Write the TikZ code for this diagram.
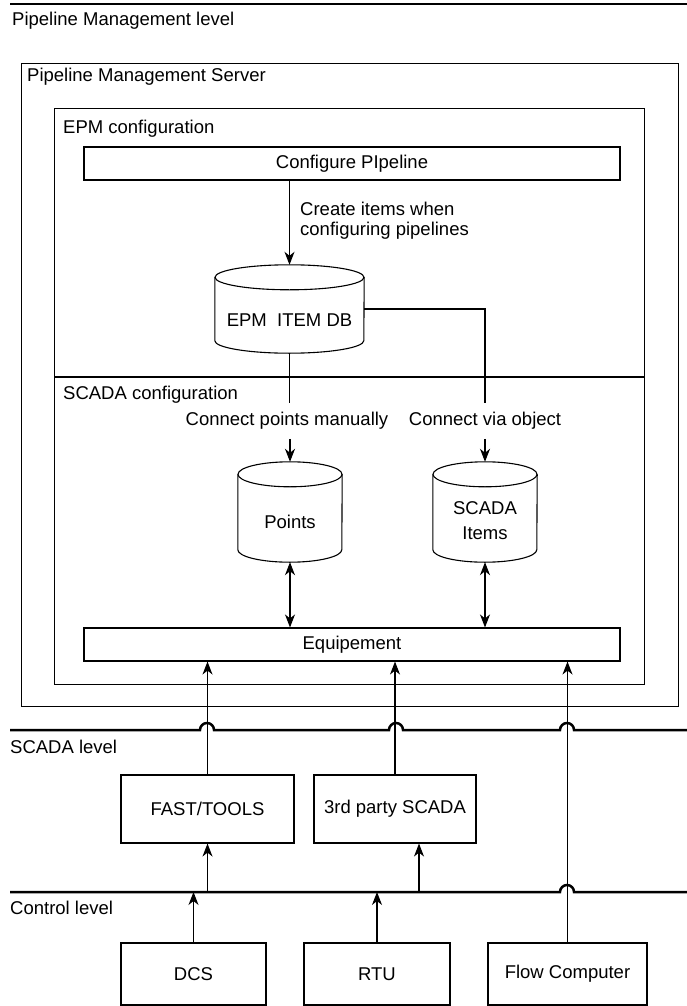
\documentclass[tikz,border=0pt]{standalone}
\usepackage{fontspec}
\setmainfont{Liberation Sans}
\usetikzlibrary{arrows.meta}

\tikzset{
  box/.style={draw, line width=1.1pt, inner sep=0pt},
  dbbody/.style={inner sep=0pt},
  arr/.style={-{Stealth[length=13pt,width=10pt,inset=4pt]}, line width=1.1pt},
  darr/.style={{Stealth[length=13pt,width=10pt,inset=4pt]}-{Stealth[length=13pt,width=10pt,inset=4pt]}, line width=1.1pt},
  level/.style={line width=2.5pt},
  lbl/.style={inner sep=0pt},
  gaplbl/.style={inner xsep=0pt, inner ysep=9pt},
}

% outline of a database drum round a node: #1 node, #2 half width
\newcommand{\dbdraw}[2]{%
  \draw[line width=1.1pt] ([yshift=-12.5pt]#1.north) ellipse [x radius=#2, y radius=12.5];
  \draw[line width=1.1pt] ([yshift=-12.5pt]#1.north west) -- ([yshift=12.5pt]#1.south west)
      arc [start angle=180, end angle=0, x radius=#2, y radius=12.5] -- ([yshift=-12.5pt]#1.north east);
}

\begin{document}
\begin{tikzpicture}[x=1pt, y=-1pt, font=\fontsize{18.5}{20}\selectfont]
    \useasboundingbox (0,0) rectangle (687,1006);

    % levels
    \draw[level] (10,4) -- (687,4);
    \node[lbl, anchor=base west] at (12,26) {Pipeline Management level};
    \draw[level] (10,730) -- (200,730) arc (180:360:7) -- (389,730) arc (180:360:7)
        -- (560,730) arc (180:360:7) -- (687,730);
    \node[lbl, anchor=base west] at (10,753) {SCADA level};
    \draw[level] (10,892) -- (560,892) arc (180:360:7) -- (687,892);
    \node[lbl, anchor=base west] at (10,914) {Control level};
    \coordinate (ctl) at (0,892);

    % server and configuration frames
    \node[box, anchor=north west, minimum width=657, minimum height=643] (server) at (21,63) {};
    \node[lbl, anchor=base west] at (27,82) {Pipeline Management Server};
    \node[box, anchor=north west, minimum width=590, minimum height=576] (cfg) at (54,108) {};
    \coordinate (divy) at (0,377);
    \draw[line width=1.1pt] (cfg.west |- divy) -- (cfg.east |- divy);
    \node[lbl, anchor=base west] at (63,133) {EPM configuration};
    \node[lbl, anchor=base west] at (63,399) {SCADA configuration};

    % EPM configuration
    \node[box, minimum width=536, minimum height=33] (conf) at (352,163.5) {Configure PIpeline};
    \node[dbbody, minimum width=149, minimum height=88] (epm) at (289.5,309) {};
    \dbdraw{epm}{74.5}
    \node[lbl] (epmtxt) at ([yshift=-11pt]epm.center) {EPM\ \ ITEM DB};
    \draw[arr] (epm.north |- conf.south) -- (epm.north);
    \node[lbl, anchor=west, align=left] (create) at (300,221) {Create items when\\configuring pipelines};

    % SCADA configuration
    \node[gaplbl] (cpm) at (287,421) {Connect points manually};
    \node[gaplbl] (cvo) at (485,421) {Connect via object};
    \node[dbbody, minimum width=104, minimum height=100] (pts) at (290,512) {};
    \dbdraw{pts}{52}
    \node[lbl] (ptstxt) at ([yshift=-10pt]pts.center) {Points};
    \node[dbbody, minimum width=104, minimum height=100] (items) at (485,512) {};
    \dbdraw{items}{52}
    \node[lbl, align=center] (itemstxt) at ([yshift=-9pt]items.center) {SCADA\\[5pt]Items};
    \draw[line width=1.1pt] (epm.south) -- (epm.south |- cpm.north);
    \draw[arr] (pts.north |- cpm.south) -- (pts.north);
    \draw[line width=1.1pt] (epm.east) -| (cvo.north);
    \draw[arr] (cvo.south) -- (items.north);
    \node[box, minimum width=536, minimum height=33] (equip) at (352,644.5) {Equipement};
    \draw[darr] (pts.south) -- (pts.south |- equip.north);
    \draw[darr] (items.south) -- (items.south |- equip.north);

    % SCADA level
    \node[box, minimum width=173, minimum height=68] (fast) at (207.5,809) {FAST/TOOLS};
    \node[box, minimum width=162, minimum height=68] (third) at (395,809) {3rd party SCADA};
    \draw[arr] (fast.north) -- (fast.north |- equip.south);
    \draw[arr] (third.north) -- (third.north |- equip.south);

    % control level
    \node[box, minimum width=145, minimum height=62] (dcs) at (193.5,974) {DCS};
    \node[box, minimum width=146, minimum height=62] (rtu) at (377,974) {RTU};
    \node[box, minimum width=159, minimum height=62] (flow) at (567.5,974) {Flow Computer};
    \draw[arr] (dcs.north) -- (dcs.north |- ctl);
    \draw[arr] (rtu.north) -- (rtu.north |- ctl);
    \draw[arr] (fast.south |- ctl) -- (fast.south);
    \draw[arr] ([xshift=24pt]third.south |- ctl) -- ([xshift=24pt]third.south);
    \draw[arr] (flow.north) -- (flow.north |- equip.south);
\end{tikzpicture}
\end{document}
